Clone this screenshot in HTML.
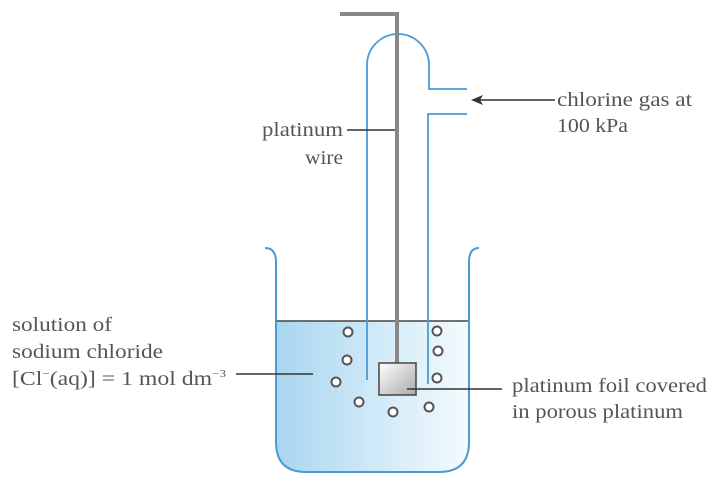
<!DOCTYPE html>
<html><head><meta charset="utf-8"><style>
html,body{margin:0;padding:0;background:#fff;}
svg text{font-family:"Liberation Serif",serif;font-size:20px;fill:#555;}
</style></head><body>
<svg width="722" height="492" viewBox="0 0 722 492" xmlns="http://www.w3.org/2000/svg">
<defs>
<linearGradient id="liq" x1="0" x2="1" y1="0" y2="0">
<stop offset="0" stop-color="#a9d6f0"/><stop offset="1" stop-color="#f4fbfe"/>
</linearGradient>
<linearGradient id="foil" x1="0" x2="1" y1="0" y2="1">
<stop offset="0" stop-color="#fff"/><stop offset="1" stop-color="#aaa"/>
</linearGradient>
</defs>
<path d="M276 321 H469 V442 Q469 472 439 472 H306 Q276 472 276 442 Z" fill="url(#liq)"/>
<line x1="276" y1="321" x2="469" y2="321" stroke="#444" stroke-width="1.5"/>
<path d="M265 248 Q276 248 276 262 V442 Q276 472 306 472 H439 Q469 472 469 442 V262 Q469 248 479 248" fill="none" stroke="#4a9ad4" stroke-width="2"/>
<path d="M367 380 V65 A31 31 0 0 1 429 65 V89 H467" fill="none" stroke="#4a9ad4" stroke-width="1.8"/>
<path d="M467 114 H428 V384" fill="none" stroke="#4a9ad4" stroke-width="1.8"/>
<path d="M340 14 H397 V363" fill="none" stroke="#888" stroke-width="4"/>
<rect x="379" y="363" width="37" height="32" fill="url(#foil)" stroke="#444" stroke-width="1.5"/>
<g fill="#fff" stroke="#555" stroke-width="2">
<circle cx="348" cy="332" r="4.5"/><circle cx="347" cy="360" r="4.5"/><circle cx="336" cy="382" r="4.5"/>
<circle cx="359" cy="402" r="4.5"/><circle cx="393" cy="412" r="4.5"/><circle cx="429" cy="407" r="4.5"/>
<circle cx="437" cy="331" r="4.5"/><circle cx="438" cy="351" r="4.5"/><circle cx="437" cy="378" r="4.5"/>
</g>
<g stroke="#333" stroke-width="1.5">
<line x1="347" y1="130" x2="395" y2="130"/>
<line x1="236" y1="374" x2="313" y2="374"/>
<line x1="407" y1="389" x2="502" y2="389"/>
<line x1="480" y1="100" x2="555" y2="100"/>
</g>
<path d="M471 100 L483 95 L480 100 L483 105 Z" fill="#333"/>
<text x="262" y="136" textLength="81" lengthAdjust="spacingAndGlyphs">platinum</text>
<text x="305" y="164" textLength="38" lengthAdjust="spacingAndGlyphs">wire</text>
<text x="557" y="106" textLength="135" lengthAdjust="spacingAndGlyphs">chlorine gas at</text>
<text x="557" y="132" textLength="71" lengthAdjust="spacingAndGlyphs">100 kPa</text>
<text x="12" y="331" textLength="100" lengthAdjust="spacingAndGlyphs">solution of</text>
<text x="12" y="358" textLength="151" lengthAdjust="spacingAndGlyphs">sodium chloride</text>
<text x="12" y="385" textLength="214" lengthAdjust="spacingAndGlyphs">[Cl<tspan font-size="11" dy="-8">−</tspan><tspan dy="8">(aq)] = 1 mol dm</tspan><tspan font-size="11" dy="-8">−3</tspan></text>
<text x="512" y="392" textLength="195" lengthAdjust="spacingAndGlyphs">platinum foil covered</text>
<text x="512" y="418" textLength="171" lengthAdjust="spacingAndGlyphs">in porous platinum</text>
</svg>
</body></html>
